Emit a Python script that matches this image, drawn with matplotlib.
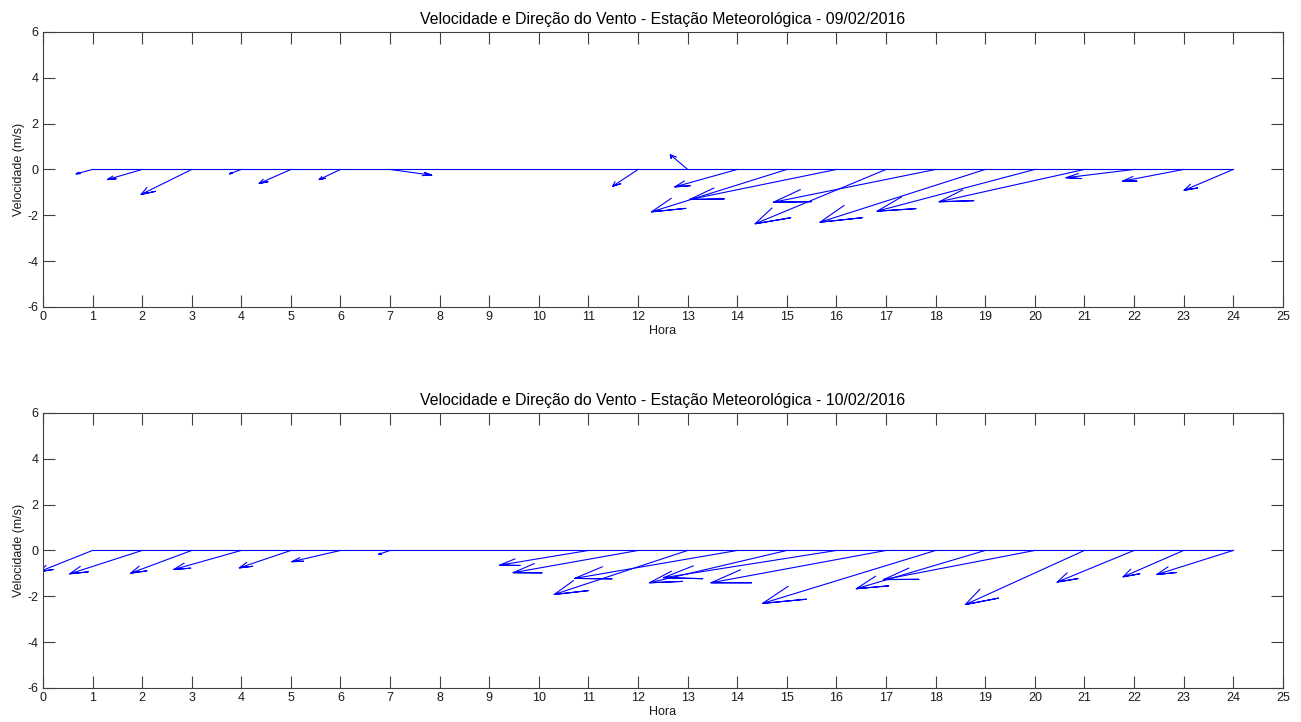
import numpy as np
import matplotlib
matplotlib.use("Agg")
import matplotlib.pyplot as plt

# Vento (componentes u, v) por hora - 09/02/2016
u_dia1 = [-0.33, -0.70, -1.02, -0.24, -0.64, -0.43, 0.84, 0, 0, 0, 0, -0.51,
          -0.35, -1.26, -2.73, -2.96, -2.64, -3.27, -3.33, -3.18, -2.93, -1.37, -1.23, -0.99]
v_dia1 = [-0.19, -0.44, -1.09, -0.19, -0.61, -0.44, -0.25, 0, 0, 0, 0, -0.73,
          0.64, -0.76, -1.85, -1.31, -2.37, -1.43, -2.30, -1.82, -1.41, -0.36, -0.51, -0.91]

# Vento (componentes u, v) por hora - 10/02/2016
u_dia2 = [-1.08, -1.46, -1.23, -1.36, -1.04, -0.98, -0.23, 0, 0, 0, -1.79, -2.52,
          -2.69, -3.28, -2.77, -3.49, -3.53, -3.49, -2.60, -3.05, -2.40, -1.55, -1.22, -1.54]
v_dia2 = [-0.93, -1.02, -0.99, -0.83, -0.76, -0.49, -0.17, 0, 0, 0, -0.64, -0.97,
          -1.92, -1.22, -1.41, -1.19, -1.41, -2.31, -1.67, -1.27, -2.36, -1.38, -1.15, -1.05]

titulos = ["Velocidade e Direção do Vento - Estação Meteorológica - 09/02/2016",
           "Velocidade e Direção do Vento - Estação Meteorológica - 10/02/2016"]

plt.rcParams['font.family'] = ['Liberation Sans', 'DejaVu Sans']
plt.rcParams['axes.unicode_minus'] = False

cor_eixo = '#404040'

# seta no estilo do feather do MATLAB
xx = np.array([0, 1, .8, 1, .8])
yy = np.array([0, 0, .08, 0, -.08])
seta = xx + 1j * yy


def feather(ax, u, v):
    z = np.array(u) + 1j * np.array(v)
    n = len(z)
    for i, zi in enumerate(z):
        a = seta * zi
        ax.plot(i + 1 + a.real, a.imag, color='b', linewidth=0.8)
    ax.plot([1, n], [0, 0], color='b', linewidth=0.8)


fig = plt.figure(figsize=(13.01, 7.22), dpi=100)
ax1 = fig.add_axes([0.033, 0.5748, 0.953, 0.381])
ax2 = fig.add_axes([0.033, 0.0471, 0.953, 0.381])

for ax, u, v, titulo in [(ax1, u_dia1, v_dia1, titulos[0]), (ax2, u_dia2, v_dia2, titulos[1])]:
    feather(ax, u, v)
    ax.set_xlim(0, 25)
    ax.set_ylim(-6, 6)
    ax.set_xticks(range(0, 26))
    ax.set_yticks(range(-6, 7, 2))
    ax.tick_params(direction='in', length=8.5, width=0.8, top=True, right=True,
                   color=cor_eixo, labelcolor='#1a1a1a', labelsize=9, pad=3)
    for s in ax.spines.values():
        s.set_color(cor_eixo)
        s.set_linewidth(0.8)
    ax.set_title(titulo, fontsize=11.4, pad=6)
    ax.set_xlabel("Hora", fontsize=9, labelpad=1, color='#1a1a1a')
    ax.set_ylabel("Velocidade (m/s)", fontsize=9, labelpad=2, color='#1a1a1a')

fig.savefig("out.png", dpi=100)
